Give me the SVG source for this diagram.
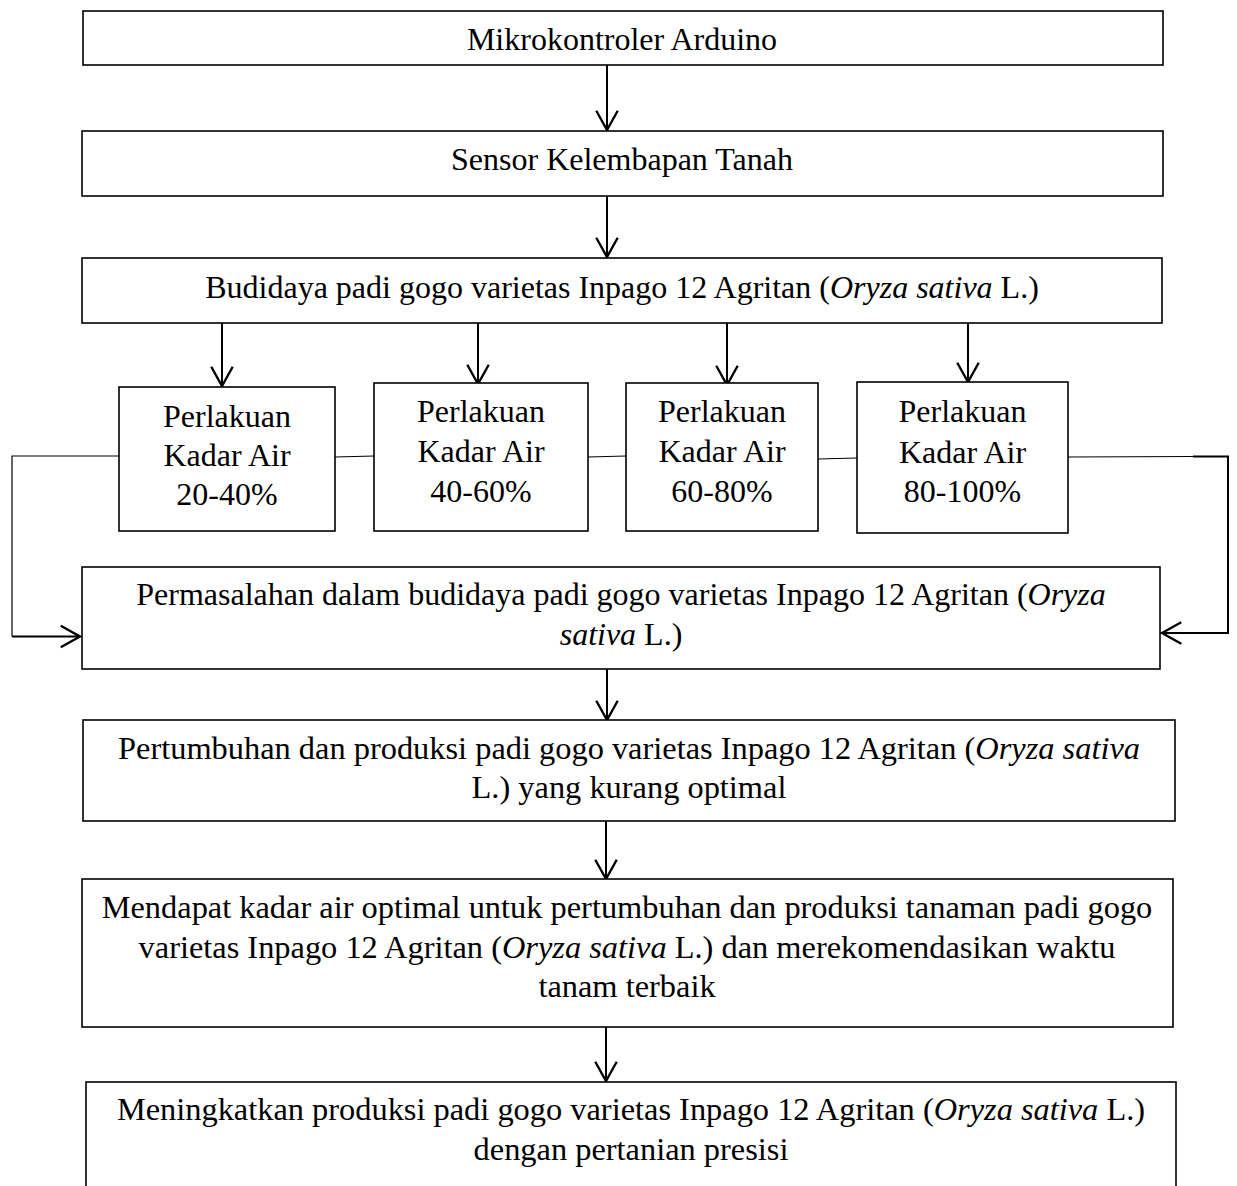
<svg xmlns="http://www.w3.org/2000/svg" width="1237" height="1186" viewBox="0 0 1237 1186">
<defs>
<style>
.box{fill:#fff;stroke:#000;stroke-width:1.6}
.t{font-family:"Liberation Serif","Times New Roman",serif;font-size:32px;fill:#000;text-anchor:middle}
.l{font-size:32.4px}
.c{fill:none;stroke:#000;stroke-width:2}
.thin{fill:none;stroke:#000;stroke-width:1.2}
.i{font-style:italic}
</style>
<marker id="ah" markerUnits="userSpaceOnUse" markerWidth="30" markerHeight="30" viewBox="-22 -14 26 28" refX="0" refY="0" orient="auto" overflow="visible">
<path d="M-18,-10 L0,0 L-18,10" fill="none" stroke="#000" stroke-width="2.2"/>
</marker>
</defs>
<rect width="1237" height="1186" fill="#fff"/>
<g id="connectors">
<line class="c" x1="607" y1="65" x2="607" y2="130" marker-end="url(#ah)"/>
<line class="c" x1="607" y1="196" x2="607" y2="257" marker-end="url(#ah)"/>
<line class="c" x1="222" y1="322" x2="222" y2="386" marker-end="url(#ah)"/>
<line class="c" x1="478" y1="322" x2="478" y2="384" marker-end="url(#ah)"/>
<line class="c" x1="727" y1="322" x2="727" y2="385" marker-end="url(#ah)"/>
<line class="c" x1="968" y1="322" x2="968" y2="382" marker-end="url(#ah)"/>
<polyline class="thin" points="119,456 12,456 12,636.5"/>
<line class="c" stroke-width="2.4" x1="12" y1="636.5" x2="80" y2="636.5" marker-end="url(#ah)"/>
<line class="thin" x1="335" y1="457" x2="374" y2="456"/>
<line class="thin" x1="588" y1="457" x2="626" y2="456"/>
<line class="thin" x1="818" y1="459" x2="857" y2="458"/>
<line class="thin" x1="1068" y1="457" x2="1194" y2="456.5"/>
<polyline class="c" stroke-width="2.6" points="1193,456.5 1228,456.5 1228,633 1162,633" marker-end="url(#ah)"/>
<line class="c" x1="607" y1="669" x2="607" y2="720" marker-end="url(#ah)"/>
<line class="c" x1="606" y1="815" x2="606" y2="879" marker-end="url(#ah)"/>
<line class="c" x1="606" y1="1027" x2="606" y2="1081" marker-end="url(#ah)"/>
</g>
<g id="n1"><rect class="box" x="83" y="11" width="1080" height="54"/><text class="t" x="622" y="50">Mikrokontroler Arduino</text></g>
<g id="n2"><rect class="box" x="82" y="131" width="1081" height="65"/><text class="t" x="622" y="170">Sensor Kelembapan Tanah</text></g>
<g id="n3"><rect class="box" x="82" y="258" width="1080" height="65"/><text class="t" x="622" y="298">Budidaya padi gogo varietas Inpago 12 Agritan (<tspan class="i">Oryza sativa</tspan> L.)</text></g>
<g id="n4a"><rect class="box" x="119" y="387" width="216" height="144"/><text class="t" x="227" y="427">Perlakuan</text><text class="t" x="227" y="466">Kadar Air</text><text class="t" x="227" y="505">20-40%</text></g>
<g id="n4b"><rect class="box" x="374" y="383" width="214" height="148"/><text class="t" x="481" y="422">Perlakuan</text><text class="t" x="481" y="462">Kadar Air</text><text class="t" x="481" y="502">40-60%</text></g>
<g id="n4c"><rect class="box" x="626" y="383" width="192" height="148"/><text class="t" x="722" y="422">Perlakuan</text><text class="t" x="722" y="462">Kadar Air</text><text class="t" x="722" y="502">60-80%</text></g>
<g id="n4d"><rect class="box" x="857" y="382" width="211" height="151"/><text class="t" x="962.5" y="422">Perlakuan</text><text class="t" x="962.5" y="463">Kadar Air</text><text class="t" x="962.5" y="502">80-100%</text></g>
<g id="n5"><rect class="box" x="82" y="567" width="1078" height="102"/><text class="t" x="621" y="605">Permasalahan dalam budidaya padi gogo varietas Inpago 12 Agritan (<tspan class="i">Oryza</tspan></text><text class="t" x="621" y="645"><tspan class="i">sativa</tspan> L.)</text></g>
<g id="n6"><rect class="box" x="83" y="720" width="1092" height="101"/><text class="t l" x="629" y="759">Pertumbuhan dan produksi padi gogo varietas Inpago 12 Agritan (<tspan class="i">Oryza sativa</tspan></text><text class="t l" x="629" y="798">L.) yang kurang optimal</text></g>
<g id="n7"><rect class="box" x="82" y="879" width="1091" height="148"/><text class="t l" x="627" y="918">Mendapat kadar air optimal untuk pertumbuhan dan produksi tanaman padi gogo</text><text class="t l" x="627" y="958">varietas Inpago 12 Agritan (<tspan class="i">Oryza sativa</tspan> L.) dan merekomendasikan waktu</text><text class="t l" x="627" y="997">tanam terbaik</text></g>
<g id="n8"><rect class="box" x="86" y="1082" width="1090" height="120"/><text class="t l" x="631" y="1120">Meningkatkan produksi padi gogo varietas Inpago 12 Agritan (<tspan class="i">Oryza sativa</tspan> L.)</text><text class="t l" x="631" y="1160">dengan pertanian presisi</text></g>
</svg>
